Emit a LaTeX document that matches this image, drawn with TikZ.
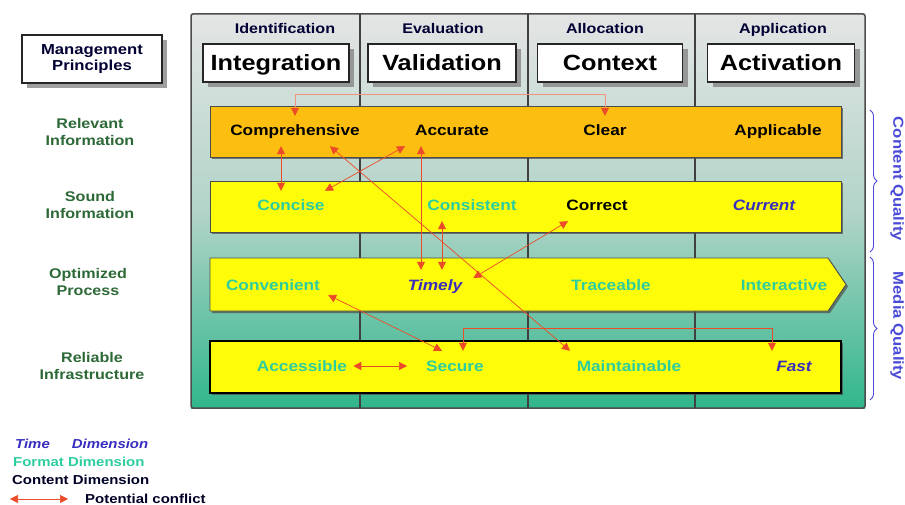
\documentclass[tikz,border=0pt]{standalone}
\usepackage{fontspec}
\setmainfont{Liberation Sans}[FakeStretch=1.15]
\usetikzlibrary{arrows.meta,shadows,decorations.pathreplacing}

\definecolor{bandorange}{RGB}{252,190,16}
\definecolor{bandyellow}{RGB}{255,252,10}
\definecolor{formatcol}{RGB}{45,205,160}
\definecolor{timecol}{RGB}{55,45,190}
\definecolor{dimgreen}{RGB}{45,105,55}
\definecolor{conflictcol}{RGB}{235,75,40}
\definecolor{bracecol}{RGB}{75,75,215}
\definecolor{frametop}{RGB}{228,229,229}
\definecolor{framemid}{RGB}{178,212,200}
\definecolor{framebot}{RGB}{48,182,140}

\tikzstyle{phase} = [anchor=base, text=black!80!blue, font=\fontsize{14}{16}\selectfont\bfseries]
\tikzstyle{principle} = [draw=black!85, line width=1.5pt, fill=white, minimum width=146pt, minimum height=38pt, inner sep=0pt, text height=16pt, text depth=0pt, font=\fontsize{22}{24}\selectfont\bfseries, drop shadow={shadow xshift=5pt, shadow yshift=-5pt, fill=black!50, opacity=.75}]
\tikzstyle{rowlabel} = [align=center, text=dimgreen, font=\fontsize{14}{16.5}\selectfont\bfseries]
\tikzstyle{band} = [draw=black!70, line width=0.8pt, drop shadow={shadow xshift=2pt, shadow yshift=-2pt, fill=black!70, opacity=.7}]
\tikzstyle{item} = [inner xsep=2pt, inner ysep=8pt, text height=12pt, text depth=2pt, font=\fontsize{15}{17}\selectfont\bfseries]
\tikzstyle{contentitem} = [item, text=black]
\tikzstyle{formatitem} = [item, text=formatcol]
\tikzstyle{timeitem} = [item, text=timecol, font=\fontsize{15}{17}\selectfont\bfseries\itshape]
\tikzstyle{conflict} = [draw=conflictcol, line width=0.7pt, {Triangle[length=8pt,width=8pt,color=conflictcol]}-{Triangle[length=8pt,width=8pt,color=conflictcol]}]
\tikzstyle{quality} = [text=bracecol, font=\fontsize{14.5}{16}\selectfont\bfseries, rotate=-90]
\tikzstyle{qbrace} = [draw=bracecol, line width=0.9pt, decorate, decoration={brace, amplitude=7pt}]
\tikzstyle{legend} = [anchor=west, inner sep=0pt, font=\fontsize{13}{15}\selectfont\bfseries]

\begin{document}
\begin{tikzpicture}[x=1pt,y=-1pt]
	\useasboundingbox (0,0) rectangle (905,505);
	\shade[top color=frametop, bottom color=framebot, middle color=framemid] (191,14) rectangle (865,408);
	\draw[black!70, line width=1.5pt, rounded corners=2pt] (191,14) rectangle (865,408);
	\foreach \x in {360,528,695}
		\draw[black!75, line width=2.2pt] (\x,14) -- (\x,408);

	\node[principle, minimum width=140pt, minimum height=48pt, align=center, text height=, text depth=, text=black!80!blue, font=\fontsize{14.5}{16.5}\selectfont\bfseries] (mgmt) at (92,59) {Management\\Principles};
	\node[phase] (p1) at (285,34) {Identification};
	\node[phase] (p2) at (443,34) {Evaluation};
	\node[phase] (p3) at (605,34) {Allocation};
	\node[phase] (p4) at (783,34) {Application};
	\node[principle] (integ) at (276,63) {Integration};
	\node[principle, minimum width=148pt] (valid) at (442,63) {Validation};
	\node[principle, minimum width=145pt] (context) at (610,63) {Context};
	\node[principle, minimum width=147pt] (activ) at (781,63) {Activation};

	\node[rowlabel] (r1) at (90,132) {Relevant\\Information};
	\node[rowlabel] (r2) at (90,205) {Sound\\Information};
	\node[rowlabel] (r3) at (88,282) {Optimized\\Process};
	\node[rowlabel] (r4) at (92,366) {Reliable\\Infrastructure};

	\draw[band, fill=bandorange] (210,106) rectangle (841,157);
	\draw[band, fill=bandyellow] (210,181) rectangle (841,232);
	\draw[band, fill=bandyellow] (210,258) -- (828,258) -- (846,284.5) -- (828,311) -- (210,311) -- cycle;
	\draw[band, fill=bandyellow, draw=black, line width=2pt] (210,341) rectangle (841,393);

	\node[contentitem] (compr) at (295,131) {Comprehensive};
	\node[contentitem] (accur) at (452,131) {Accurate};
	\node[contentitem] (clear) at (605,131) {Clear};
	\node[contentitem] (appl) at (778,131) {Applicable};
	\node[formatitem] (conc) at (291,206) {Concise};
	\node[formatitem] (cons) at (472,206) {Consistent};
	\node[contentitem] (corr) at (597,206) {Correct};
	\node[timeitem] (curr) at (764,206) {Current};
	\node[formatitem] (conv) at (273,285) {Convenient};
	\node[timeitem] (timely) at (435,285) {Timely};
	\node[formatitem] (trace) at (611,285) {Traceable};
	\node[formatitem] (inter) at (784,285) {Interactive};
	\node[formatitem] (access) at (302,366) {Accessible};
	\node[formatitem] (secure) at (455,366) {Secure};
	\node[formatitem] (maint) at (629,366) {Maintainable};
	\node[timeitem] (fast) at (794,366) {Fast};

	\draw[conflict, draw=conflictcol!60] (compr.north) -- ++(0,-21) -| (clear.north);
	\draw[conflict] ([xshift=-14pt]compr.south) -- ([xshift=-10pt]conc.north);
	\draw[conflict] ([xshift=-47pt]accur.south) -- ([xshift=34pt]conc.north);
	\draw[conflict] ([xshift=35pt]compr.south) -- ([xshift=-59pt]maint.north);
	\draw[conflict] ([xshift=-31pt]accur.south) -- ([xshift=-14pt]timely.north);
	\draw[conflict] ([xshift=-30pt]cons.south) -- ([xshift=7pt]timely.north);
	\draw[conflict] ([xshift=-29pt]corr.south) -- ([xshift=9pt,yshift=7pt]timely.east);
	\draw[conflict] ([xshift=6pt,yshift=-10pt]conv.east) -- ([xshift=-13pt]secure.north);
	\draw[conflict] ([xshift=4pt]access.east) -- ([xshift=-17pt]secure.west);
	\draw[conflict] ([xshift=8pt]secure.north) -- ++(0,-22) -| ([xshift=-22pt]fast.north);

	\draw[qbrace] (870,110) -- (870,252);
	\draw[qbrace] (870,257) -- (870,400);
	\node[quality] (cq) at (897,179) {Content Quality};
	\node[quality] (mq) at (897,326) {Media Quality};

	\node[legend, text=timecol, font=\fontsize{13}{15}\selectfont\bfseries\itshape] (legtime) at (15,444) {Time\hspace{22pt}Dimension};
	\node[legend, text=formatcol] (legformat) at (13,462) {Format Dimension};
	\node[legend, text=black!85!blue] (legcontent) at (12,480) {Content Dimension};
	\node[legend, text=black!85!blue] (pconf) at (85,499) {Potential conflict};
	\coordinate (legstart) at (10,499);
	\draw[conflict] (legstart) -- ([xshift=-17pt]pconf.west);
\end{tikzpicture}
\end{document}
